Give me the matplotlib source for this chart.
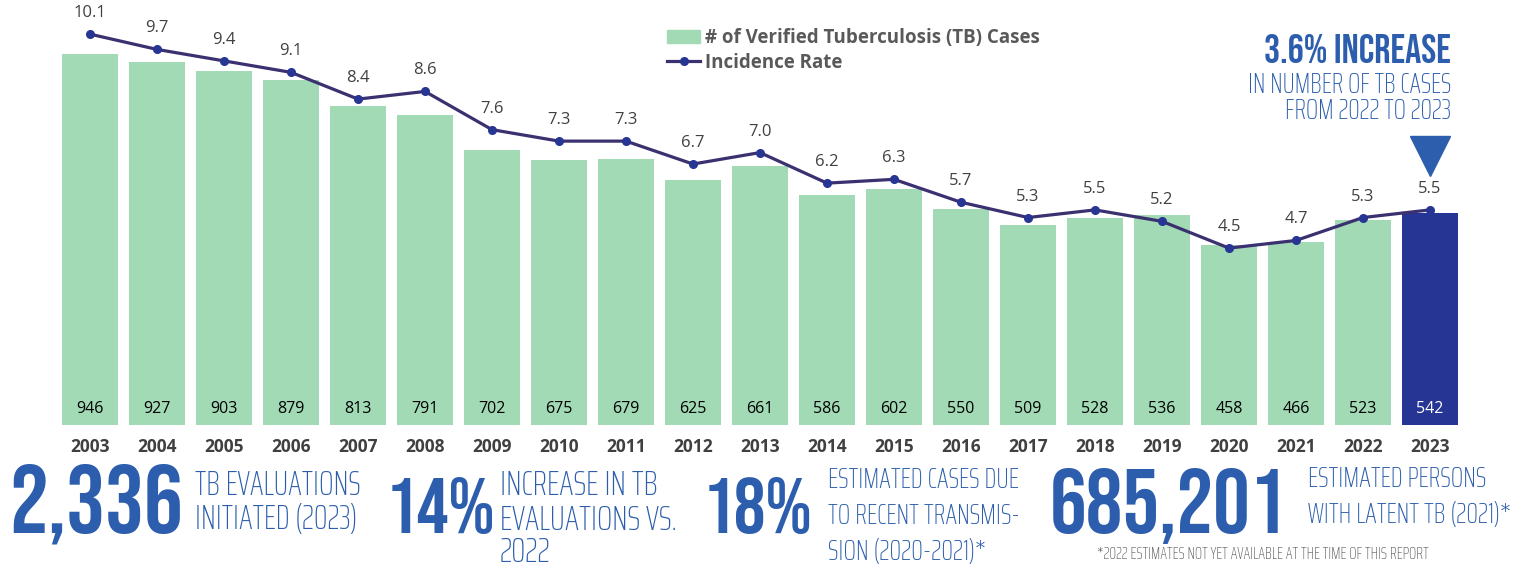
import matplotlib
matplotlib.use("Agg")
import matplotlib.pyplot as plt
from matplotlib.lines import Line2D
from matplotlib.patches import Patch
import numpy as np

# data
years = [2003, 2004, 2005, 2006, 2007, 2008, 2009, 2010, 2011, 2012, 2013,
         2014, 2015, 2016, 2017, 2018, 2019, 2020, 2021, 2022, 2023]
cases = [946, 927, 903, 879, 813, 791, 702, 675, 679, 625, 661,
         586, 602, 550, 509, 528, 536, 458, 466, 523, 542]
rate = [10.1, 9.7, 9.4, 9.1, 8.4, 8.6, 7.6, 7.3, 7.3, 6.7, 7.0,
        6.2, 6.3, 5.7, 5.3, 5.5, 5.2, 4.5, 4.7, 5.3, 5.5]

# bottom call-outs: (big number, lines of small text)
stats = [("2,336", ["TB EVALUATIONS", "INITIATED (2023)"]),
         ("14%", ["INCREASE IN TB", "EVALUATIONS VS.", "2022"]),
         ("18%", ["ESTIMATED CASES DUE", "TO RECENT TRANSMIS-", "SION (2020-2021)*"]),
         ("685,201", ["ESTIMATED PERSONS", "WITH LATENT TB (2021)*"])]
footnote = "*2022 ESTIMATES NOT YET AVAILABLE AT THE TIME OF THIS REPORT"
headline = "3.6% INCREASE"
subline = ["IN NUMBER OF TB CASES", "FROM 2022 TO 2023"]

GREEN = "#a2dab6"
NAVY_BAR = "#263494"
LINE = "#3b3070"
DOT = "#273593"
BLUE = "#2c5ead"
GRAY = "#404040"

W, H = 1525, 568
fig = plt.figure(figsize=(W / 100, H / 100), dpi=100)


def fx(px):
    return px / W


def fy(py):
    return 1 - py / H


ax = fig.add_axes([fx(56.5), fy(425), (1463.5 - 56.5) / W, (425 - 20) / H])
x = np.arange(len(years))
colors = [GREEN] * (len(years) - 1) + [NAVY_BAR]
ax.bar(x, cases, width=0.83, color=colors, zorder=1)
ax.set_xlim(-0.5, len(years) - 0.5)
ax.set_ylim(0, 1033)
for i, v in enumerate(cases):
    ax.annotate(str(v), xy=(i, 0), xytext=(0, 16), textcoords="offset pixels",
                ha="center", va="center", fontsize=11.5, family="Open Sans",
                color="white" if i == len(years) - 1 else "black")
ax.set_xticks(x, [str(y) for y in years])
ax.tick_params(axis="x", length=0, pad=9)
for lab in ax.get_xticklabels():
    lab.set_fontfamily("Open Sans")
    lab.set_fontweight("bold")
    lab.set_fontsize(12.5)
    lab.set_color(GRAY)
ax.set_yticks([])
for s in ax.spines.values():
    s.set_visible(False)

ax2 = ax.twinx()
ax2.set_ylim(-0.13, 10.47)
ax2.plot(x, rate, color=LINE, lw=2.3, marker="o", ms=5.5, mfc=DOT, mec=DOT, zorder=3)
for i, v in enumerate(rate):
    ax2.annotate(f"{v:.1f}", xy=(i, v), xytext=(0, 21), textcoords="offset pixels",
                 ha="center", va="center", fontsize=12, family="Open Sans", color=GRAY)
ax2.set_yticks([])
for s in ax2.spines.values():
    s.set_visible(False)

# pointer triangle above the 2023 bar
ax2.plot([x[-1]], [0.665], transform=ax2.get_xaxis_transform(), marker="v",
         ms=29, color=BLUE, mec=BLUE, clip_on=False)

handles = [Patch(color=GREEN),
           Line2D([], [], color=LINE, lw=2.3, marker="o", ms=5.5, mfc=DOT, mec=DOT)]
leg = ax.legend(handles, ["# of Verified Tuberculosis (TB) Cases", "Incidence Rate"],
                loc="upper left", bbox_to_anchor=(fx(667), fy(28)),
                bbox_transform=fig.transFigure, frameon=False, borderpad=0,
                borderaxespad=0, handlelength=1.76, handletextpad=0.27,
                labelspacing=0.26, prop={"family": "Open Sans", "weight": "bold",
                                         "size": 13.5})
for t in leg.get_texts():
    t.set_color("#595959")

fig.text(fx(1451), fy(63), headline, ha="right", va="baseline",
         family="Bebas Neue", fontsize=29, color=BLUE)
for k, line in enumerate(subline):
    fig.text(fx(1451), fy(93 + 26 * k), line, ha="right", va="baseline",
             family="Saira ExtraCondensed", weight="light", fontsize=20.5, color=BLUE)

# bottom call-outs
big_x = [9, 386, 703, 1050]
big_size = [70, 57, 57, 66]
small_x = [195, 500, 828, 1308]
small_size = [24.5, 25.5, 21, 21]
small_y = [[495, 529], [495, 530, 562], [488, 524, 560], [487, 523]]
for (num, lines), bx, bs, sx, ss, ys in zip(stats, big_x, big_size, small_x,
                                            small_size, small_y):
    fig.text(fx(bx), fy(533), num, ha="left", va="baseline", family="Bebas Neue",
             fontsize=bs, color=BLUE)
    for line, yy in zip(lines, ys):
        fig.text(fx(sx), fy(yy), line, ha="left", va="baseline",
                 family="Saira ExtraCondensed", weight="light", fontsize=ss, color=BLUE)
fig.text(fx(1097), fy(559), footnote, ha="left", va="baseline",
         family="Saira ExtraCondensed", weight="light", fontsize=12.2, color="#595959")

fig.savefig("out.png", dpi=100)
